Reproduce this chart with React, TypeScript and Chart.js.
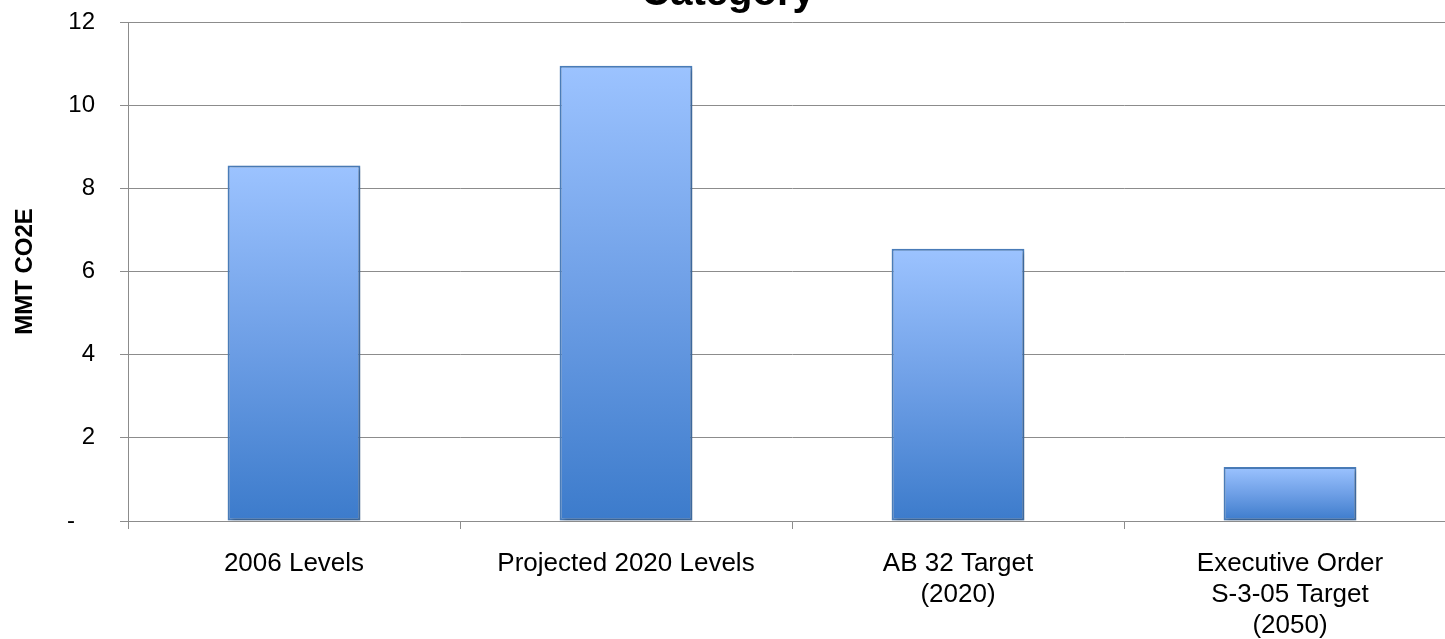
import React, { useEffect, useRef } from "react";
import { Chart, registerables } from "chart.js";

Chart.register(...registerables);

const categories: (string | string[])[] = [
  "2006 Levels",
  "Projected 2020 Levels",
  ["AB 32 Target", "(2020)"],
  ["Executive Order", "S-3-05 Target", "(2050)"],
];
const values: number[] = [8.55, 10.95, 6.55, 1.3];
const yTicks: number[] = [0, 2, 4, 6, 8, 10, 12];
const titleText = "Category";
const yTitle = "MMT CO2E";

const FONT = "'Liberation Sans', Arial, sans-serif";
const CANVAS_W = 1456;
const CANVAS_H = 690;
const TOP_OFFSET = -30;

export default function App() {
  const ref = useRef<HTMLCanvasElement | null>(null);

  useEffect(() => {
    const canvas = ref.current;
    if (!canvas) return;

    const shadowPlugin = {
      id: "barShadow",
      beforeDatasetsDraw(chart: any) {
        const ctx = chart.ctx;
        ctx.save();
        ctx.shadowColor = "rgba(0,0,0,0.28)";
        ctx.shadowBlur = 4;
        ctx.shadowOffsetX = 2;
        ctx.shadowOffsetY = 2;
      },
      afterDatasetsDraw(chart: any) {
        chart.ctx.restore();
      },
    };

    const chart = new Chart(canvas, {
      type: "bar",
      data: {
        labels: categories as any,
        datasets: [
          {
            data: values,
            backgroundColor: (c: any) => {
              const ch = c.chart;
              const s = ch.scales?.y;
              if (!ch.chartArea || !s) return "#6A9BE6";
              const v = c.raw as number;
              const yTop = s.getPixelForValue(v);
              const yBot = s.getPixelForValue(0);
              const g = ch.ctx.createLinearGradient(0, yTop, 0, yBot);
              g.addColorStop(0, "#9CC3FF");
              g.addColorStop(0.5, "#6E9FE6");
              g.addColorStop(1, "#3C7BCB");
              return g;
            },
            borderColor: "#4A7DBA",
            borderWidth: 2,
            borderSkipped: false,
            barPercentage: 0.4,
            categoryPercentage: 1,
          },
        ],
      },
      options: {
        responsive: false,
        animation: false,
        layout: { padding: 0 },
        plugins: {
          legend: { display: false },
          tooltip: { enabled: false },
          title: {
            display: true,
            text: titleText,
            color: "#000",
            font: { family: FONT, size: 40, weight: "bold", lineHeight: 1.2 },
            padding: { top: 0, bottom: 4 },
          },
        },
        scales: {
          x: {
            grid: {
              display: true,
              drawOnChartArea: false,
              drawTicks: true,
              tickLength: 8,
              offset: true,
              color: "#8C8C8C",
            },
            border: { display: true, color: "#8C8C8C" },
            ticks: {
              color: "#000",
              font: { family: FONT, size: 26, lineHeight: 1.2 },
              padding: 19,
              maxRotation: 0,
              autoSkip: false,
            },
            afterFit(scale: any) {
              scale.height = CANVAS_H - 551;
            },
          },
          y: {
            min: 0,
            max: 12,
            afterBuildTicks(scale: any) {
              scale.ticks = yTicks.map((v) => ({ value: v }));
            },
            ticks: {
              color: "#000",
              font: { family: FONT, size: 24 },
              padding: 25,
              callback: (v: any) => (Number(v) === 0 ? "-   " : String(v)),
            },
            grid: {
              color: "#8C8C8C",
              lineWidth: 1,
              drawTicks: true,
              tickLength: 8,
            },
            border: { display: true, color: "#8C8C8C" },
            title: {
              display: true,
              text: yTitle,
              color: "#000",
              font: { family: FONT, size: 24, weight: "bold", lineHeight: 1.2 },
              padding: { top: 11, bottom: 0 },
            },
            afterFit(scale: any) {
              scale.width = 128;
            },
          },
        },
      },
      plugins: [shadowPlugin],
    });

    return () => chart.destroy();
  }, []);

  return (
    <div
      style={{
        position: "fixed",
        left: 0,
        top: 0,
        width: 1445,
        height: 639,
        overflow: "hidden",
        background: "#fff",
      }}
    >
      <canvas
        ref={ref}
        width={CANVAS_W}
        height={CANVAS_H}
        style={{
          position: "absolute",
          left: 0,
          top: TOP_OFFSET,
          width: CANVAS_W,
          height: CANVAS_H,
        }}
      />
    </div>
  );
}
